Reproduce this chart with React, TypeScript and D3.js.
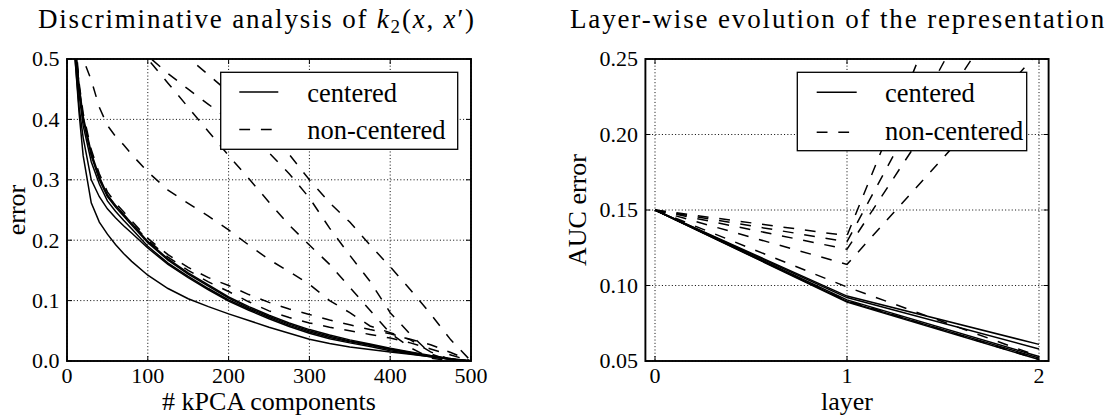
import React from "react";
import * as d3 from "d3";

// left panel: error vs number of kPCA components
const kpcaComponents = [2, 5, 10, 15, 20, 30, 40, 50, 60, 70, 80, 100, 125, 150, 175, 200, 225, 250, 275, 300, 325, 350, 375, 400, 425, 450, 475, 500];

const kpcaCentered = [
  [0.72, 0.61, 0.5, 0.41, 0.34, 0.262, 0.23, 0.21, 0.193, 0.178, 0.165, 0.142, 0.12, 0.103, 0.09, 0.078, 0.067, 0.056, 0.046, 0.036, 0.029, 0.023, 0.019, 0.015, 0.011, 0.007, 0.003, 0.0],
  [0.78, 0.64, 0.53, 0.455, 0.405, 0.345, 0.305, 0.275, 0.258, 0.243, 0.228, 0.198, 0.169, 0.146, 0.126, 0.106, 0.09, 0.076, 0.063, 0.052, 0.043, 0.035, 0.028, 0.021, 0.015, 0.009, 0.004, 0.0],
  [0.77, 0.63, 0.52, 0.45, 0.4, 0.34, 0.3, 0.272, 0.255, 0.24, 0.225, 0.196, 0.167, 0.144, 0.124, 0.104, 0.088, 0.074, 0.061, 0.05, 0.041, 0.033, 0.027, 0.02, 0.014, 0.008, 0.003, 0.0],
  [0.76, 0.62, 0.51, 0.44, 0.39, 0.33, 0.293, 0.265, 0.248, 0.233, 0.219, 0.19, 0.162, 0.14, 0.12, 0.101, 0.086, 0.072, 0.059, 0.048, 0.039, 0.032, 0.026, 0.019, 0.013, 0.008, 0.003, 0.0],
  [0.74, 0.61, 0.5, 0.42, 0.37, 0.3, 0.272, 0.252, 0.237, 0.224, 0.212, 0.187, 0.16, 0.138, 0.118, 0.099, 0.084, 0.07, 0.057, 0.046, 0.037, 0.03, 0.024, 0.017, 0.012, 0.007, 0.003, 0.0],
];

const kpcaNonCentered = [
  [0.78, 0.65, 0.54, 0.46, 0.41, 0.35, 0.31, 0.28, 0.262, 0.247, 0.232, 0.203, 0.176, 0.155, 0.138, 0.125, 0.11, 0.097, 0.086, 0.077, 0.068, 0.06, 0.052, 0.045, 0.036, 0.027, 0.014, 0.0],
  [0.77, 0.64, 0.53, 0.455, 0.4, 0.342, 0.303, 0.274, 0.257, 0.242, 0.228, 0.2, 0.172, 0.15, 0.131, 0.115, 0.098, 0.083, 0.072, 0.063, 0.056, 0.05, 0.044, 0.038, 0.03, 0.02, 0.01, 0.0],
  [0.7, 0.63, 0.57, 0.53, 0.5, 0.465, 0.42, 0.39, 0.372, 0.358, 0.342, 0.313, 0.283, 0.261, 0.24, 0.217, 0.192, 0.168, 0.148, 0.127, 0.1, 0.08, 0.058, 0.047, 0.035, 0.015, 0.002, 0.0],
  [0.66, 0.655, 0.645, 0.635, 0.625, 0.61, 0.595, 0.58, 0.565, 0.548, 0.532, 0.5, 0.46, 0.42, 0.38, 0.34, 0.302, 0.263, 0.225, 0.192, 0.16, 0.122, 0.084, 0.046, 0.022, 0.005, 0.0, 0.0],
  [0.61, 0.61, 0.6, 0.595, 0.59, 0.58, 0.57, 0.56, 0.548, 0.537, 0.527, 0.505, 0.476, 0.45, 0.425, 0.4, 0.373, 0.345, 0.31, 0.27, 0.22, 0.175, 0.132, 0.08, 0.044, 0.012, 0.0, 0.0],
  [0.68, 0.675, 0.67, 0.665, 0.66, 0.648, 0.636, 0.624, 0.612, 0.6, 0.588, 0.562, 0.53, 0.502, 0.474, 0.445, 0.413, 0.38, 0.342, 0.3, 0.262, 0.23, 0.192, 0.156, 0.118, 0.078, 0.035, 0.0],
];

// right panel: AUC error per layer
const layers = [0, 1, 2];

const layerCentered = [
  [0.15, 0.093, 0.061],
  [0.15, 0.092, 0.058],
  [0.15, 0.0905, 0.053],
  [0.15, 0.0895, 0.052],
  [0.15, 0.089, 0.051],
];

const layerNonCentered = [
  [0.15, 0.133, 0.447],
  [0.15, 0.129, 0.365],
  [0.15, 0.124, 0.318],
  [0.15, 0.114, 0.255],
  [0.15, 0.099, 0.053],
  [0.15, 0.09, 0.051],
];

const kpcaXTicks = [0, 100, 200, 300, 400, 500];
const kpcaYTicks = [0, 0.1, 0.2, 0.3, 0.4, 0.5];
const layerXTicks = [0, 1, 2];
const layerYTicks = [0.05, 0.1, 0.15, 0.2, 0.25];

const legendLabels = ["centered", "non-centered"];

const SERIF = "Liberation Serif, Tinos, Times New Roman, DejaVu Serif, serif";
const DASH = "10.8,10.8";

interface LegendBox {
  x0: number;
  x1: number;
  y0: number;
  y1: number;
  lineX0: number;
  lineX1: number;
  textX: number;
  lineY: number[];
  textY: number[];
}

interface PanelProps {
  id: string;
  frame: { left: number; right: number; top: number; bottom: number };
  xDomain: [number, number];
  yDomain: [number, number];
  xTicks: number[];
  yTicks: number[];
  xFormat: (v: number) => string;
  yFormat: (v: number) => string;
  xs: number[];
  solid: number[][];
  dashed: number[][];
  legend: LegendBox;
  xLabel: string;
  yLabel: string;
  yLabelX: number;
}

function Panel({ id, frame, xDomain, yDomain, xTicks, yTicks, xFormat, yFormat, xs, solid, dashed, legend, xLabel, yLabel, yLabelX }: PanelProps) {
  const { left, right, top, bottom } = frame;
  const x = d3.scaleLinear().domain(xDomain).range([left, right]);
  const y = d3.scaleLinear().domain(yDomain).range([bottom, top]);
  const line = d3
    .line<number>()
    .x((_, i) => x(xs[i]))
    .y(d => y(d));
  const tick = 5;

  return (
    <g>
      <defs>
        <clipPath id={`clip-${id}`}>
          <rect x={left} y={top} width={right - left} height={bottom - top} />
        </clipPath>
      </defs>
      {/* dotted grid */}
      {xTicks.map(t => (
        <line key={`gx${t}`} x1={x(t)} x2={x(t)} y1={top} y2={bottom} stroke="#000" strokeWidth={0.9} strokeDasharray="1.1,2.2" />
      ))}
      {yTicks.map(t => (
        <line key={`gy${t}`} x1={left} x2={right} y1={y(t)} y2={y(t)} stroke="#000" strokeWidth={0.9} strokeDasharray="1.1,2.2" />
      ))}
      <g clipPath={`url(#clip-${id})`} fill="none" stroke="#000" strokeWidth={1.5}>
        {dashed.map((d, i) => (
          <path key={`d${i}`} d={line(d) ?? undefined} strokeDasharray={DASH} />
        ))}
        {solid.map((d, i) => (
          <path key={`s${i}`} d={line(d) ?? undefined} />
        ))}
      </g>
      {/* inward ticks on all four sides */}
      {xTicks.map(t => (
        <g key={`tx${t}`} stroke="#000" strokeWidth={1}>
          <line x1={x(t)} x2={x(t)} y1={bottom} y2={bottom - tick} />
          <line x1={x(t)} x2={x(t)} y1={top} y2={top + tick} />
        </g>
      ))}
      {yTicks.map(t => (
        <g key={`ty${t}`} stroke="#000" strokeWidth={1}>
          <line x1={left} x2={left + tick} y1={y(t)} y2={y(t)} />
          <line x1={right} x2={right - tick} y1={y(t)} y2={y(t)} />
        </g>
      ))}
      <rect x={left} y={top} width={right - left} height={bottom - top} fill="none" stroke="#000" strokeWidth={1.9} />
      {/* tick labels */}
      <g style={{ fontFamily: SERIF }} fontSize={22} fill="#000">
        {xTicks.map(t => (
          <text key={`lx${t}`} x={x(t)} y={383} textAnchor="middle">
            {xFormat(t)}
          </text>
        ))}
        {yTicks.map(t => (
          <text key={`ly${t}`} x={left - 7.5} y={y(t)} dy="0.34em" textAnchor="end">
            {yFormat(t)}
          </text>
        ))}
      </g>
      <g style={{ fontFamily: SERIF }} fontSize={26} fill="#000">
        <text x={(left + right) / 2} y={410} textAnchor="middle">
          {xLabel}
        </text>
        <text transform={`translate(${yLabelX},${(top + bottom) / 2}) rotate(-90)`} textAnchor="middle">
          {yLabel}
        </text>
      </g>
      {/* legend */}
      <g>
        <rect x={legend.x0} y={legend.y0} width={legend.x1 - legend.x0} height={legend.y1 - legend.y0} fill="#fff" stroke="#000" strokeWidth={1.3} />
        {legendLabels.map((label, i) => (
          <g key={label}>
            <line
              x1={legend.lineX0}
              x2={legend.lineX1}
              y1={legend.lineY[i]}
              y2={legend.lineY[i]}
              stroke="#000"
              strokeWidth={1.5}
              strokeDasharray={i === 1 ? DASH : undefined}
            />
            <text x={legend.textX} y={legend.textY[i]} style={{ fontFamily: SERIF }} fontSize={26.5} fill="#000">
              {label}
            </text>
          </g>
        ))}
      </g>
    </g>
  );
}

export default function App() {
  const f1 = d3.format(".1f");
  const f2 = d3.format(".2f");
  return (
    <svg width={1107} height={418} style={{ position: "absolute", left: 0, top: 0, background: "#fff" }}>
      <rect width={1107} height={418} fill="#fff" />
      <text x={38} y={27.5} style={{ fontFamily: SERIF, letterSpacing: "1.8px" }} fontSize={27} fill="#000">
        Discriminative analysis of <tspan fontStyle="italic">k</tspan>
        <tspan fontSize={19} dy={5}>2</tspan>
        <tspan dy={-5}>(</tspan>
        <tspan fontStyle="italic">x</tspan>
        <tspan>, </tspan>
        <tspan fontStyle="italic">x</tspan>
        <tspan>′)</tspan>
      </text>
      <text x={570} y={27.5} style={{ fontFamily: SERIF, letterSpacing: "1.85px" }} fontSize={27} fill="#000">
        Layer-wise evolution of the representation
      </text>
      <Panel
        id="kpca"
        frame={{ left: 67, right: 471, top: 59, bottom: 361 }}
        xDomain={[0, 500]}
        yDomain={[0, 0.5]}
        xTicks={kpcaXTicks}
        yTicks={kpcaYTicks}
        xFormat={v => String(v)}
        yFormat={v => f1(v)}
        xs={kpcaComponents}
        solid={kpcaCentered}
        dashed={kpcaNonCentered}
        xLabel="# kPCA components"
        yLabel="error"
        yLabelX={25}
        legend={{ x0: 220.7, x1: 457.7, y0: 72.3, y1: 149.3, lineX0: 239.3, lineX1: 278.3, textX: 307.3, lineY: [92, 129.5], textY: [101.5, 139.3] }}
      />
      <Panel
        id="layer"
        frame={{ left: 645.4, right: 1048.6, top: 59, bottom: 361 }}
        xDomain={[-0.05, 2.05]}
        yDomain={[0.05, 0.25]}
        xTicks={layerXTicks}
        yTicks={layerYTicks}
        xFormat={v => String(v)}
        yFormat={v => f2(v)}
        xs={layers}
        solid={layerCentered}
        dashed={layerNonCentered}
        xLabel="layer"
        yLabel="AUC error"
        yLabelX={586}
        legend={{ x0: 797.3, x1: 1026.7, y0: 72.3, y1: 150.7, lineX0: 816.7, lineX1: 856.7, textX: 885, lineY: [92.3, 132.3], textY: [101.7, 140] }}
      />
    </svg>
  );
}
